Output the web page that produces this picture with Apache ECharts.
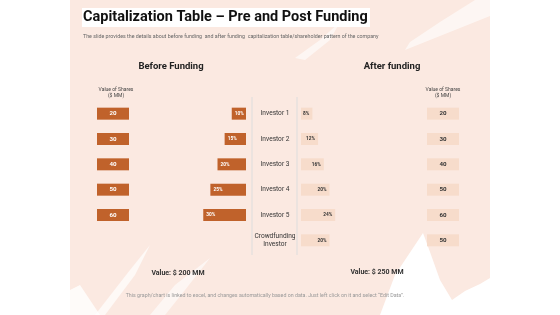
<!DOCTYPE html>
<html><head><meta charset="utf-8">
<script src="https://cdn.jsdelivr.net/npm/echarts@6/dist/echarts.min.js"></script>
<style>html,body{margin:0;padding:0;background:#fff}#c{width:560px;height:315px}</style>
</head><body><div id="c"></div>
<script>
const investors = ['Investor 1','Investor 2','Investor 3','Investor 4','Investor 5','Crowdfunding\nInvestor'];
const preShares = [20, 30, 40, 50, 60];
const prePct = [10, 15, 20, 25, 30];
const postPct = [8, 12, 16, 20, 24, 20];
const postShares = [20, 30, 40, 50, 60, 50];
const preValue = 'Value: $ 200 MM';
const postValue = 'Value: $ 250 MM';

const FONT = 'Roboto';
const DARK = '#c0622b';
const LIGHT = '#f7dccb';
const chart = echarts.init(document.getElementById('c'), null, {renderer:'canvas'});

const gTop = 101, gH = 152;
const grids = [
  {left: 97, width: 32, top: gTop, height: gH},
  {left: 189, width: 57, top: gTop, height: gH},
  {left: 301, width: 57, top: gTop, height: gH},
  {left: 427, width: 32, top: gTop, height: gH}
];
function yAx(i, showLabel){
  return {type:'category', gridIndex:i, inverse:true, data:investors,
    axisLine:{show:false}, axisTick:{show:false}, splitLine:{show:false},
    axisLabel: showLabel ? {show:true, align:'center', margin:26, fontSize:6.6, color:'#333', fontFamily:FONT, lineHeight:8.5} : {show:false}};
}
function txt(text, x, y, size, weight, color, align){
  return {type:'text', x:x, y:y, style:{text:text, fontSize:size, fontWeight:weight||'normal', fill:color||'#222', fontFamily:FONT, align:align||'center', verticalAlign:'middle', lineHeight:size*1.25}};
}
const graphics = [
  {type:'rect', z:-10, shape:{x:70,y:0,width:420,height:315}, style:{fill:'#fbe9e1'}},
  {type:'polygon', z:-9, shape:{points:[[380,315],[395,275],[423,233],[430,252],[440,280],[452,300],[465,291],[480,284],[490,278],[490,315]]}, style:{fill:'#fff'}},
  {type:'polygon', z:-9, shape:{points:[[405,50],[450,32],[490,16],[490,0],[475,0],[440,22],[410,42]]}, style:{fill:'#fff', opacity:0.6}},
  {type:'polygon', z:-9, shape:{points:[[295,58],[320,40],[340,22],[330,40],[305,60]]}, style:{fill:'#fff', opacity:0.6}},
  {type:'polygon', z:-9, shape:{points:[[95,315],[130,270],[150,245],[135,275],[105,315]]}, style:{fill:'#fff', opacity:0.7}},
  {type:'polygon', z:-9, shape:{points:[[150,315],[175,285],[210,258],[185,290],[165,315]]}, style:{fill:'#fff', opacity:0.6}},
  {type:'polygon', z:-9, shape:{points:[[70,290],[80,285],[90,300],[100,315],[70,315]]}, style:{fill:'#fff', opacity:0.8}},
  {type:'rect', z:-8, shape:{x:82,y:8,width:288,height:19}, style:{fill:'#fff'}},
  {type:'line', shape:{x1:252,y1:97,x2:252,y2:255}, style:{stroke:'#ddd', lineWidth:1}},
  {type:'line', shape:{x1:297,y1:97,x2:297,y2:255}, style:{stroke:'#ddd', lineWidth:1}},
  txt('Capitalization Table – Pre and Post Funding', 83, 17, 14.5, 'bold', '#111', 'left'),
  txt('The slide provides the details about before funding  and after funding  capitalization table/shareholder pattern of the company', 83, 37, 5.3, 'normal', '#666', 'left'),
  txt('Before Funding', 171, 67, 9.5, 'bold', '#222'),
  txt('After funding', 392, 67, 9.5, 'bold', '#222'),
  txt('Value of Shares\n($ MM)', 116, 93, 5, 'normal', '#444'),
  txt('Value of Shares\n($ MM)', 443, 93, 5, 'normal', '#444'),
  txt(preValue, 178, 273, 7, 'bold', '#333'),
  txt(postValue, 377, 272, 7, 'bold', '#333'),
  txt('This graph/chart is linked to excel, and changes automatically based on data. Just left click on it and select \u201cEdit Data\u201d.', 265, 296, 5.3, 'normal', '#999')
];

const option = {
  animation:false,
  backgroundColor:'#fff',
  grid: grids,
  xAxis: [
    {type:'value', gridIndex:0, min:-1, max:1, show:false},
    {type:'value', gridIndex:1, min:0, max:40, inverse:true, show:false},
    {type:'value', gridIndex:2, min:0, max:40, show:false},
    {type:'value', gridIndex:3, min:-1, max:1, show:false}
  ],
  yAxis: [yAx(0,false), yAx(1,false), yAx(2,true), yAx(3,false)],
  series: [
    {type:'scatter', xAxisIndex:0, yAxisIndex:0, symbol:'rect', symbolSize:[32,12],
      itemStyle:{color:DARK, opacity:1},
      label:{show:true, position:'inside', color:'#fff', fontSize:6.2, fontWeight:'bold', fontFamily:FONT, formatter:p=>p.value[2]},
      data: preShares.map((v,i)=>[0,i,v])},
    {type:'bar', xAxisIndex:1, yAxisIndex:1, barWidth:12, itemStyle:{color:DARK},
      label:{show:true, position:'insideLeft', distance:3, color:'#fff', fontSize:4.8, fontWeight:'bold', fontFamily:FONT, formatter:'{c}%'},
      data: prePct},
    {type:'bar', xAxisIndex:2, yAxisIndex:2, barWidth:12, itemStyle:{color:LIGHT},
      label:{show:true, position:'insideRight', distance:3, color:'#333', fontSize:4.8, fontWeight:'bold', fontFamily:FONT, formatter:'{c}%'},
      data: postPct},
    {type:'scatter', xAxisIndex:3, yAxisIndex:3, symbol:'rect', symbolSize:[32,12],
      itemStyle:{color:LIGHT, opacity:1},
      label:{show:true, position:'inside', color:'#333', fontSize:6.2, fontWeight:'bold', fontFamily:FONT, formatter:p=>p.value[2]},
      data: postShares.map((v,i)=>[0,i,v])}
  ],
  graphic: graphics
};
chart.setOption(option);
</script></body></html>
